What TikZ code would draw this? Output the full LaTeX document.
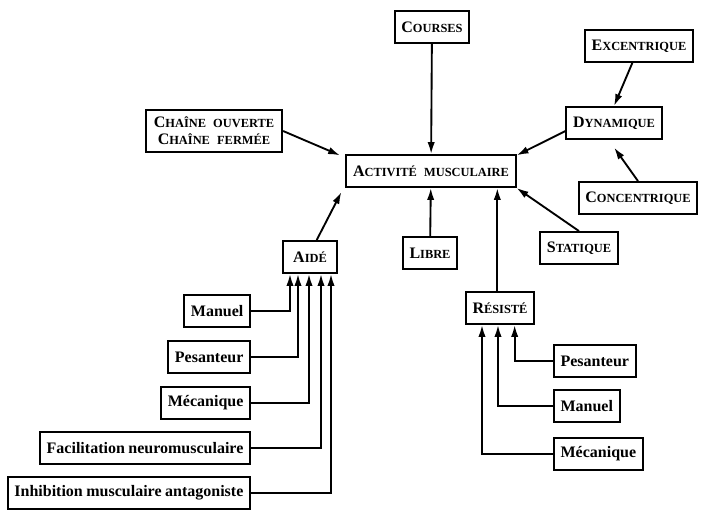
\documentclass[tikz,border=0pt]{standalone}
\usepackage{fontspec}
\setmainfont{Liberation Serif}
\usetikzlibrary{arrows.meta}
\newcommand\pc[1]{{\fontsize{9.3pt}{11pt}\selectfont #1}}
\newcommand\wsp{\hspace{0.45em}}
\newcommand\lsp{\hspace{0.22em}}
\tikzset{
  box/.style={draw, line width=1.4pt, inner xsep=5pt, minimum height=24pt, font=\fontsize{12pt}{13pt}\selectfont\bfseries},
  arr/.style={line width=1.4pt, -{Latex[length=9pt,width=5.5pt]}},
}
\begin{document}
\begin{tikzpicture}[x=0.75pt,y=-0.75pt]
  \useasboundingbox (0,0) rectangle (701,512);
  \node[box] (activ) at (431,171) {A\pc{CTIVITÉ}\wsp\pc{MUSCULAIRE}};
  \node[box] (courses) at (432,27) {C\pc{OURSES}};
  \node[box, align=center, inner ysep=5pt, inner xsep=6pt] (chaine) at (214,131) {C\pc{HAÎNE}\wsp\pc{OUVERTE}\\C\pc{HAÎNE}\wsp\pc{FERMÉE}};
  \node[box] (excent) at (639,46) {E\pc{XCENTRIQUE}};
  \node[box] (dyn) at (614,123) {D\pc{YNAMIQUE}};
  \node[box] (concent) at (638,198) {C\pc{ONCENTRIQUE}};
  \node[box, minimum width=40pt] (aide) at (310,257) {A\pc{IDÉ}};
  \node[box] (libre) at (430,253) {L\pc{IBRE}};
  \node[box] (statique) at (579,248) {S\pc{TATIQUE}};
  \node[box] (resiste) at (500,308) {R\pc{ÉSISTÉ}};
  % aide
  \node[box, anchor=east] (aman) at (251,311) {Manuel};
  \node[box, anchor=east] (apes) at (251,357) {Pesanteur};
  \node[box, anchor=east] (amec) at (251,403) {Mécanique};
  \node[box, anchor=east] (afac) at (251,448) {Facilitation\lsp neuromusculaire};
  \node[box, anchor=east] (ainh) at (251,493) {Inhibition\lsp musculaire\lsp antagoniste};
  % resiste
  \node[box, anchor=west] (rpes) at (553,361) {Pesanteur};
  \node[box, anchor=west] (rman) at (553,406) {Manuel};
  \node[box, anchor=west] (rmec) at (553,454) {Mécanique};
  \begin{scope}[arr]
    \draw (courses) -- (activ);
    \draw (chaine.east) -- ([shift={(-4pt,-1pt)}]activ.north west);
    \draw ([yshift=-6pt]dyn.west) -- ([shift={(0pt,-1pt)}]activ.north east);
    \draw ([xshift=-5pt]excent.south) -- (dyn.north);
    \draw[shorten >=7pt] (concent.north) -- ([xshift=-4pt]dyn.south);
    \draw ([xshift=5pt]aide.north) -- ([shift={(-3pt,-3pt)}]activ.south west);
    \draw (libre) -- (activ);
    \draw ([xshift=-2pt]resiste.north) -- ([xshift=-2pt]resiste.north |- activ.south);
    \draw (statique.north) -- (activ.south east);
    \draw (aman.east) -| ([xshift=-15pt]aide.south);
    \draw (apes.east) -| ([xshift=-9pt]aide.south);
    \draw (amec.east) -| ([xshift=-0.75pt]aide.south);
    \draw (afac.east) -| ([xshift=8.25pt]aide.south);
    \draw (ainh.east) -| ([xshift=15.75pt]aide.south);
    \draw (rpes.west) -| ([xshift=11pt]resiste.south);
    \draw (rman.west) -| ([xshift=-1.5pt]resiste.south);
    \draw (rmec.west) -| ([xshift=-13.5pt]resiste.south);
  \end{scope}
\end{tikzpicture}
\end{document}
